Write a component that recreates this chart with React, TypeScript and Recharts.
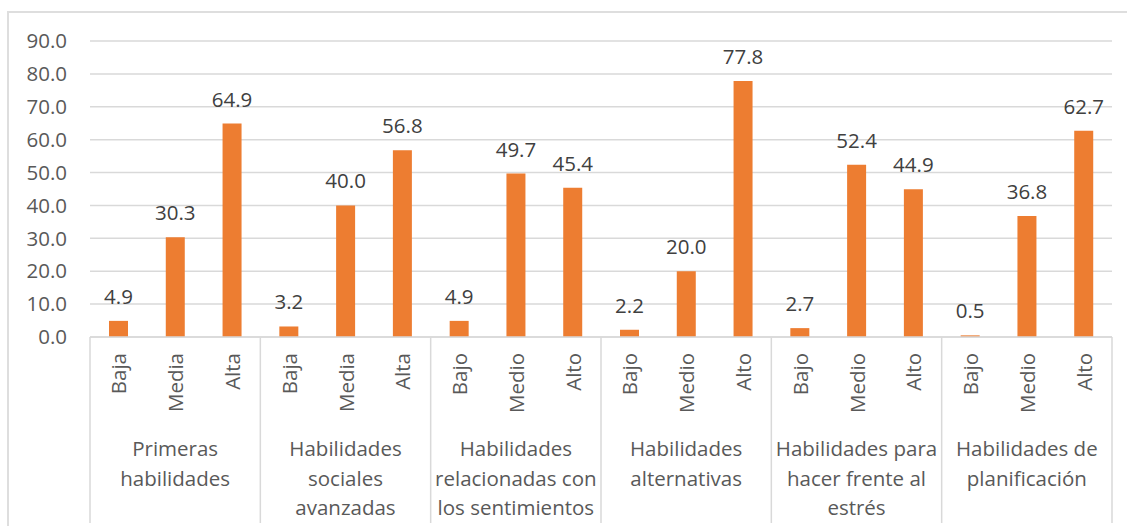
import React from "react";
import { BarChart, Bar, XAxis, YAxis, CartesianGrid, LabelList } from "recharts";

const groupLabels: string[][] = [
  ["Primeras", "habilidades"],
  ["Habilidades", "sociales", "avanzadas"],
  ["Habilidades", "relacionadas con", "los sentimientos"],
  ["Habilidades", "alternativas"],
  ["Habilidades para", "hacer frente al", "estrés"],
  ["Habilidades de", "planificación"],
];

const levelLabels: string[][] = [
  ["Baja", "Media", "Alta"],
  ["Baja", "Media", "Alta"],
  ["Bajo", "Medio", "Alto"],
  ["Bajo", "Medio", "Alto"],
  ["Bajo", "Medio", "Alto"],
  ["Bajo", "Medio", "Alto"],
];

const groupValues: number[][] = [
  [4.9, 30.3, 64.9],
  [3.2, 40.0, 56.8],
  [4.9, 49.7, 45.4],
  [2.2, 20.0, 77.8],
  [2.7, 52.4, 44.9],
  [0.5, 36.8, 62.7],
];

const yTicks = [0, 10, 20, 30, 40, 50, 60, 70, 80, 90];

const data = groupLabels.flatMap((g, gi) =>
  levelLabels[gi].map((lvl, li) => ({
    key: `${gi}-${li}`,
    group: gi,
    level: lvl,
    pos: li,
    value: groupValues[gi][li],
  }))
);

const FONT = "'Open Sans', sans-serif";
const FS = 20.5;
const GRID = "#D9D9D9";

const CatTick = (props: any) => {
  const { x, y, payload } = props;
  const idx: number = payload?.index ?? props.index ?? 0;
  const d = data[idx];
  if (!d) return null;
  const bw = payload?.offset ? payload.offset * 2 : 1022 / 18;
  const lines = groupLabels[d.group];
  return (
    <g>
      <text
        transform={`translate(${x}, ${y + 16}) rotate(-90)`}
        textAnchor="end"
        dominantBaseline="central"
        fontSize={FS}
        fontFamily={FONT}
        fill="#595959"
      >
        {d.level}
      </text>
      {d.pos === 0 && (
        <line x1={x - bw / 2} x2={x - bw / 2} y1={y} y2={y + 186} stroke={GRID} strokeWidth={1.5} />
      )}
      {idx === data.length - 1 && (
        <line x1={x + bw / 2} x2={x + bw / 2} y1={y} y2={y + 186} stroke={GRID} strokeWidth={1.5} />
      )}
      {d.pos === 1 &&
        lines.map((ln, i) => (
          <text
            key={i}
            x={x}
            y={y + 111 + i * 29.5}
            textAnchor="middle"
            dominantBaseline="central"
            fontSize={FS}
            fontFamily={FONT}
            fill="#595959"
          >
            {ln}
          </text>
        ))}
    </g>
  );
};

export default function App() {
  return (
    <div style={{ position: "fixed", left: 0, top: 0, width: 1127, height: 526, background: "#fff" }}>
      <div
        style={{
          position: "absolute",
          left: 7,
          top: 11,
          width: 1140,
          height: 540,
          borderLeft: `2px solid #DEDEDE`,
          borderTop: `2px solid #DEDEDE`,
          boxSizing: "border-box",
        }}
      />
      <div style={{ position: "absolute", left: 0, top: 0 }}>
        <BarChart
          width={1127}
          height={526}
          data={data}
          margin={{ top: 41, right: 15, left: 10, bottom: 0 }}
        >
          <CartesianGrid vertical={false} stroke={GRID} strokeWidth={1.5} />
          <XAxis
            dataKey="key"
            type="category"
            height={189}
            interval={0}
            tickLine={false}
            tickSize={0}
            tickMargin={0}
            axisLine={{ stroke: GRID, strokeWidth: 1.5 }}
            tick={(p: any) => <CatTick {...p} />}
          />
          <YAxis
            type="number"
            domain={[0, 90]}
            ticks={yTicks}
            width={80}
            axisLine={false}
            tickLine={false}
            tickSize={0}
            tickMargin={23}
            interval={0}
            tickFormatter={(v: number) => v.toFixed(1)}
            tick={{ fontSize: FS, fontFamily: FONT, fill: "#595959" }}
          />
          <Bar dataKey="value" fill="#ED7D31" barSize={19} isAnimationActive={false}>
            <LabelList
              dataKey="value"
              position="top"
              offset={17}
              formatter={(v: any) => Number(v).toFixed(1)}
              style={{ fontSize: FS, fontFamily: FONT, fill: "#404040" }}
            />
          </Bar>
        </BarChart>
      </div>
    </div>
  );
}
